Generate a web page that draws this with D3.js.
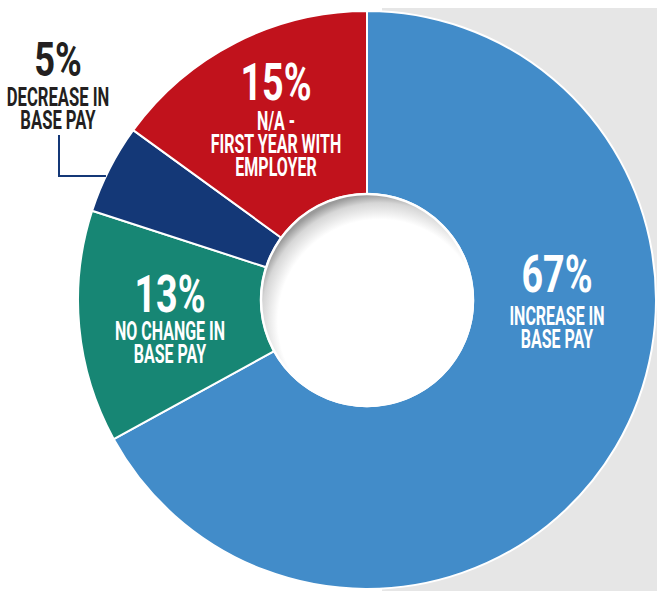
<!DOCTYPE html>
<html>
<head>
<meta charset="utf-8">
<script src="https://cdn.jsdelivr.net/npm/d3@7"></script>
<style>
  html, body { margin: 0; padding: 0; background: #fff; }
  svg { display: block; }
  .big { font-family: Roboto, "DejaVu Sans", sans-serif; font-weight: 700; }
  .small { font-family: Roboto, "DejaVu Sans", sans-serif; font-weight: 700; }
</style>
</head>
<body>
<script>
// chart data
const categories = ['Increase in base pay', 'No change in base pay', 'Decrease in base pay', 'N/A - first year with employer']
const values = [67, 13, 5, 15]
const labelLines = [
  ['INCREASE IN', 'BASE PAY'],
  ['NO CHANGE IN', 'BASE PAY'],
  ['DECREASE IN', 'BASE PAY'],
  ['N/A -', 'FIRST YEAR WITH', 'EMPLOYER'],
]
const colors = ['#428cc9', '#178674', '#143877', '#c1121c']

var width = 657
var height = 591
var cx = 367, cy = 300
var outerR = 289, innerR = 106

// where each label sits, relative to the donut centre
var labelPos = [
  { dx: 190, bigY: -8, lineY: 25, color: '#fff', outside: false },
  { dx: -197, bigY: 12, lineY: 40, color: '#fff', outside: false },
  { dx: -309, bigY: -224, lineY: -194, color: '#231f20', outside: true },
  { dx: -91, bigY: -200, lineY: -170, color: '#fff', outside: false },
]

var svg = d3.select('body').append('svg')
  .attr('width', width)
  .attr('height', height)

var defs = svg.append('defs')
var grad = defs.append('radialGradient')
  .attr('id', 'holeShadow')
  .attr('cx', 0.56).attr('cy', 0.6).attr('r', 0.6)
grad.append('stop').attr('offset', 0.8).attr('stop-color', '#fff')
grad.append('stop').attr('offset', 0.93).attr('stop-color', '#d6d6d6')
grad.append('stop').attr('offset', 1).attr('stop-color', '#9a9a9a')

// grey panel behind the right half
svg.append('rect')
  .attr('x', 382).attr('y', 8)
  .attr('width', width - 382).attr('height', height - 8)
  .attr('fill', '#e6e6e6')

var pie = d3.pie().sort(null).value(function(d) { return d })
var arc = d3.arc().innerRadius(innerR).outerRadius(outerR)
var arcs = pie(values)

var g = svg.append('g').attr('transform', 'translate(' + cx + ',' + cy + ')')

g.selectAll('path.slice')
  .data(arcs)
  .enter().append('path')
    .attr('class', 'slice')
    .attr('d', arc)
    .attr('fill', function(d, i) { return colors[i] })
    .attr('stroke', '#fff')
    .attr('stroke-width', 2)
    .attr('stroke-linejoin', 'round')
  .append('title')
    .text(function(d, i) { return categories[i] + ': ' + d.data + '%' })

// hole with inner shadow
g.append('circle')
  .attr('r', innerR)
  .attr('fill', 'url(#holeShadow)')
  .attr('stroke', '#fff')
  .attr('stroke-width', 2.5)

// callout for the small slice
var calloutY = -124
var calloutEndX = -Math.sqrt(outerR * outerR - calloutY * calloutY)
g.append('path')
  .attr('d', d3.line()([[-308, -165], [-308, calloutY], [calloutEndX, calloutY]]))
  .attr('fill', 'none')
  .attr('stroke', colors[2])
  .attr('stroke-width', 2)

// labels
var labels = g.selectAll('g.label')
  .data(arcs)
  .enter().append('g')
    .attr('class', 'label')
    .attr('transform', function(d, i) { return 'translate(' + labelPos[i].dx + ',0)' })

labels.append('text')
  .attr('class', 'big')
  .attr('text-anchor', 'middle')
  .attr('transform', function(d, i) { return 'translate(0,' + labelPos[i].bigY + ') scale(0.74,1)' })
  .attr('font-size', function(d, i) { return labelPos[i].outside ? 49 : 51 })
  .attr('fill', function(d, i) { return labelPos[i].color })
  .text(function(d) { return d.data + '%' })

labels.each(function(d, i) {
  var sel = d3.select(this)
  labelLines[i].forEach(function(line, j) {
    sel.append('text')
      .attr('class', 'small')
      .attr('text-anchor', 'middle')
      .attr('transform', 'translate(0,' + (labelPos[i].lineY + j * 23) + ') scale(0.64,1)')
      .attr('font-size', labelPos[i].outside ? 26 : 25)
      .attr('fill', labelPos[i].color)
      .text(line)
  })
})
</script>
</body>
</html>
